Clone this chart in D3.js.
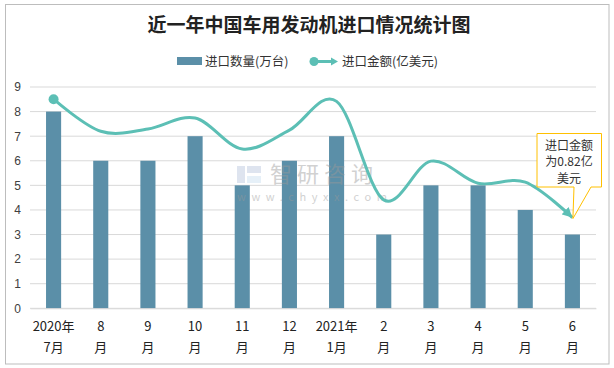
<!DOCTYPE html>
<html><head><meta charset="utf-8">
<script src="https://cdn.jsdelivr.net/npm/d3@7"></script>
<style>body{margin:0;background:#fff}svg{display:block}text{font-family:"Noto Sans CJK SC","Noto Sans",sans-serif}</style>
</head><body><svg id="c" width="614" height="368"></svg>
<script>
const title = "近一年中国车用发动机进口情况统计图";
const categories = ["2020年|7月","8|月","9|月","10|月","11|月","12|月","2021年|1月","2|月","3|月","4|月","5|月","6|月"];
const quantity = [8,6,6,7,5,6,7,3,5,5,4,3];           // 进口数量(万台)
const amount = [1.89,1.60,1.62,1.72,1.44,1.61,1.87,0.98,1.33,1.13,1.14,0.82]; // 进口金额(亿美元)
const yTicks = [0,1,2,3,4,5,6,7,8,9];
const legendNames = ["进口数量(万台)","进口金额(亿美元)"];
const noteLines = ["进口金额","为0.82亿","美元"];

const svg = d3.select("#c");
const barColor = "#5b8fa8", lineColor = "#5cbfb5";
const L = 30, R = 596, T = 87, B = 308.3;

svg.append("rect").attr("x",5.5).attr("y",4.5).attr("width",603.5).attr("height",359.5)
  .attr("fill","#fff").attr("stroke","#bdbdbd");

const x = d3.scaleBand().domain(categories).range([L,R]).paddingInner(0.68).paddingOuter(0.34);
const y = d3.scaleLinear().domain([0,9]).range([B,T]);
const y2 = d3.scaleLinear().domain([0,2]).range([B,T]);

// gridlines
svg.append("g").selectAll("line").data(yTicks).join("line")
  .attr("x1",L).attr("x2",R).attr("y1",d=>y(d)).attr("y2",d=>y(d))
  .attr("stroke","#d9d9d9").attr("stroke-width",1);

// y axis labels
const yAxis = svg.append("g").attr("transform",`translate(${L},0)`)
  .call(d3.axisLeft(y).tickValues(yTicks).tickSize(0).tickPadding(9));
yAxis.select(".domain").remove();
yAxis.selectAll("text").attr("font-size",12).attr("fill","#404040")
  .style("font-family","'Liberation Sans',sans-serif");

// bars
svg.append("g").selectAll("rect").data(quantity).join("rect")
  .attr("x",(d,i)=>x(categories[i])).attr("width",x.bandwidth())
  .attr("y",d=>y(d)).attr("height",d=>B-y(d)).attr("fill",barColor);

// watermark (over bars)
const wm = svg.append("g").attr("opacity",0.45);
wm.append("rect").attr("x",237).attr("y",166).attr("width",8).attr("height",17).attr("fill","#b8c4dc");
wm.append("rect").attr("x",247).attr("y",166).attr("width",14).attr("height",7).attr("fill","#b8c4dc");
wm.append("rect").attr("x",247).attr("y",176).attr("width",14).attr("height",7).attr("fill","#c9dff0");
wm.append("text").attr("x",270).attr("y",182).attr("font-size",22).attr("fill","#9a9a9a")
  .attr("letter-spacing",5).text("智研咨询");
wm.append("text").attr("x",237).attr("y",201).attr("font-size",11).attr("fill","#9a9a9a")
  .attr("letter-spacing",5.6).text("www.chyxx.com");

// x axis labels
const xAxis = svg.append("g").attr("transform",`translate(0,${B})`)
  .call(d3.axisBottom(x).tickSize(0).tickFormat(""));
xAxis.select(".domain").attr("stroke","#d9d9d9");
xAxis.selectAll(".tick").each(function(d){
  const parts = d.split("|");
  const g = d3.select(this);
  parts.forEach((p,k)=>{
    g.append("text").attr("y",23+k*21).attr("text-anchor","middle")
      .attr("font-size",13).attr("fill","#222").text(p);
  });
});

// line
const defs = svg.append("defs");
defs.append("marker").attr("id","arr").attr("markerUnits","userSpaceOnUse")
  .attr("viewBox","0 0 10 10").attr("refX",10).attr("refY",5)
  .attr("markerWidth",10).attr("markerHeight",10).attr("orient","auto")
  .append("path").attr("d","M0,0 L10,5 L0,10 Z").attr("fill",lineColor);

const pts = amount.map((v,i)=>[x(categories[i])+x.bandwidth()/2, y2(v)]);
svg.append("path").attr("d",d3.line().curve(d3.curveCardinal.tension(0))(pts))
  .attr("fill","none").attr("stroke",lineColor).attr("stroke-width",3)
  .attr("marker-end","url(#arr)");
svg.append("circle").attr("cx",pts[0][0]).attr("cy",pts[0][1]).attr("r",5).attr("fill",lineColor);

// callout
const tip = pts[pts.length-1];
svg.append("path")
  .attr("d",`M537,133.5 H601.5 V187 H591 L${tip[0]+0.5},${tip[1]+1} L574,187 H537 Z`)
  .attr("fill","#fff").attr("stroke","#ffc000").attr("stroke-width",1);
noteLines.forEach((t,k)=>{
  svg.append("text").attr("x",569).attr("y",150+k*16.3).attr("text-anchor","middle")
    .attr("font-size",12).attr("fill","#333").text(t);
});

// title
svg.append("text").attr("x",309).attr("y",32).attr("text-anchor","middle")
  .attr("font-size",19).attr("font-weight",700).attr("fill","#222").text(title);

// legend
svg.append("rect").attr("x",177).attr("y",57).attr("width",25).attr("height",8).attr("fill",barColor);
svg.append("text").attr("x",205).attr("y",66).attr("font-size",12.5).attr("fill","#333").text(legendNames[0]);
svg.append("line").attr("x1",313).attr("x2",333).attr("y1",61.5).attr("y2",61.5)
  .attr("stroke",lineColor).attr("stroke-width",3);
svg.append("path").attr("d","M331,57.5 L338,61.5 L331,65.5 Z").attr("fill",lineColor);
svg.append("circle").attr("cx",314).attr("cy",61.5).attr("r",4.5).attr("fill",lineColor);
svg.append("text").attr("x",342).attr("y",66).attr("font-size",12.5).attr("fill","#333").text(legendNames[1]);
</script></body></html>
